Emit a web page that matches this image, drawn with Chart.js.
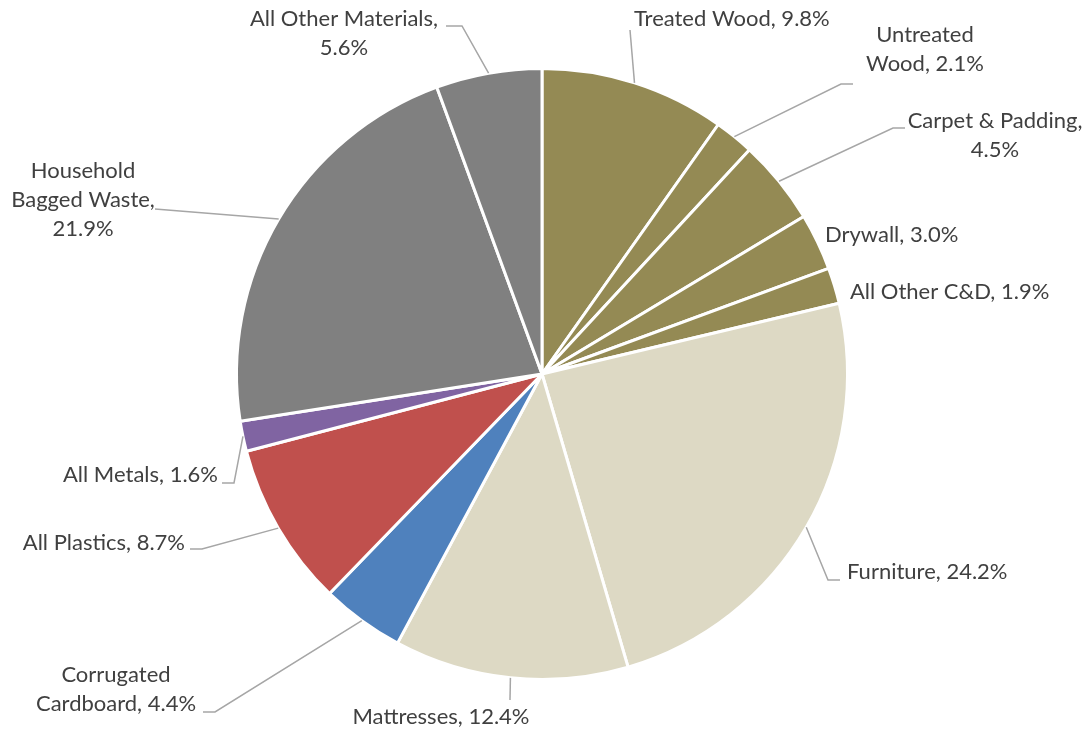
<!DOCTYPE html>
<html>
<head>
<meta charset="utf-8">
<script src="https://cdn.jsdelivr.net/npm/chart.js@4/dist/chart.umd.min.js"></script>
<style>
  html, body { margin: 0; padding: 0; background: #fff; }
  #wrap { width: 1089px; height: 731px; }
</style>
</head>
<body>
<div id="wrap"><canvas id="pieChart" width="1089" height="731"></canvas></div>
<script>
// Material categories, clockwise from 12 o'clock
const categories = [
  'Treated Wood', 'Untreated Wood', 'Carpet & Padding', 'Drywall', 'All Other C&D',
  'Furniture', 'Mattresses', 'Corrugated Cardboard', 'All Plastics', 'All Metals',
  'Household Bagged Waste', 'All Other Materials'
];
const shares = [9.8, 2.1, 4.5, 3.0, 1.9, 24.2, 12.4, 4.4, 8.7, 1.6, 21.9, 5.6];
const sliceColors = [
  '#948A54', '#948A54', '#948A54', '#948A54', '#948A54',
  '#DDD9C4', '#DDD9C4', '#4F81BD', '#C0504D', '#8064A2',
  '#808080', '#808080'
];

// label text broken into lines the way the original wraps them
const labelLines = [
  ['Treated Wood, 9.8%'],
  ['Untreated', 'Wood, 2.1%'],
  ['Carpet & Padding,', '4.5%'],
  ['Drywall, 3.0%'],
  ['All Other C&D, 1.9%'],
  ['Furniture, 24.2%'],
  ['Mattresses, 12.4%'],
  ['Corrugated', 'Cardboard, 4.4%'],
  ['All Plastics, 8.7%'],
  ['All Metals, 1.6%'],
  ['Household', 'Bagged Waste,', '21.9%'],
  ['All Other Materials,', '5.6%']
];

// where each label sits (x, y of first line), its alignment, and the leader elbow (null = no leader)
const labelLayout = [
  { x: 634, y: 19,  align: 'left',   elbow: [630, 30], tail: 0 },
  { x: 925, y: 35,  align: 'center', elbow: [841, 84], tail: 12 },
  { x: 995, y: 121, align: 'center', elbow: [893, 128], tail: 12 },
  { x: 825, y: 235, align: 'left',   elbow: null },
  { x: 850, y: 292, align: 'left',   elbow: null },
  { x: 847, y: 572, align: 'left',   elbow: [828, 580], tail: 12 },
  { x: 441, y: 717, align: 'center', elbow: [510, 700], tail: 0 },
  { x: 116, y: 675, align: 'center', elbow: [215, 712], tail: -12 },
  { x: 185, y: 543, align: 'right',  elbow: [202, 549], tail: -12 },
  { x: 218, y: 475, align: 'right',  elbow: [234, 483], tail: -12 },
  { x: 83,  y: 171, align: 'center', elbow: [155, 209], tail: 0 },
  { x: 344, y: 19,  align: 'center', elbow: [462, 26], tail: -16 }
];

const lineHeight = 29;

const leaderLabels = {
  id: 'leaderLabels',
  afterDatasetsDraw(chart) {
    const ctx = chart.ctx;
    const arcs = chart.getDatasetMeta(0).data;
    ctx.save();
    arcs.forEach((arc, i) => {
      const lay = labelLayout[i];
      const mid = (arc.startAngle + arc.endAngle) / 2;
      const ax = arc.x + Math.cos(mid) * arc.outerRadius;
      const ay = arc.y + Math.sin(mid) * arc.outerRadius;

      if (lay.elbow) {
        ctx.strokeStyle = '#A6A6A6';
        ctx.lineWidth = 1.5;
        ctx.beginPath();
        ctx.moveTo(ax, ay);
        ctx.lineTo(lay.elbow[0], lay.elbow[1]);
        if (lay.tail) ctx.lineTo(lay.elbow[0] + lay.tail, lay.elbow[1]);
        ctx.stroke();
      }

      ctx.fillStyle = '#404040';
      ctx.font = '22px Lato, "Open Sans", sans-serif';
      ctx.textAlign = lay.align;
      ctx.textBaseline = 'middle';
      labelLines[i].forEach((txt, k) => {
        ctx.fillText(txt, lay.x, lay.y + k * lineHeight);
      });
    });
    ctx.restore();
  }
};

new Chart(document.getElementById('pieChart'), {
  type: 'pie',
  data: {
    labels: categories,
    datasets: [{
      data: shares,
      backgroundColor: sliceColors,
      borderColor: '#ffffff',
      borderWidth: 3
    }]
  },
  options: {
    responsive: false,
    animation: false,
    layout: { padding: { top: 67, bottom: 50, left: 235, right: 240 } },
    plugins: {
      legend: { display: false },
      tooltip: { enabled: false }
    }
  },
  plugins: [leaderLabels]
});
</script>
</body>
</html>
